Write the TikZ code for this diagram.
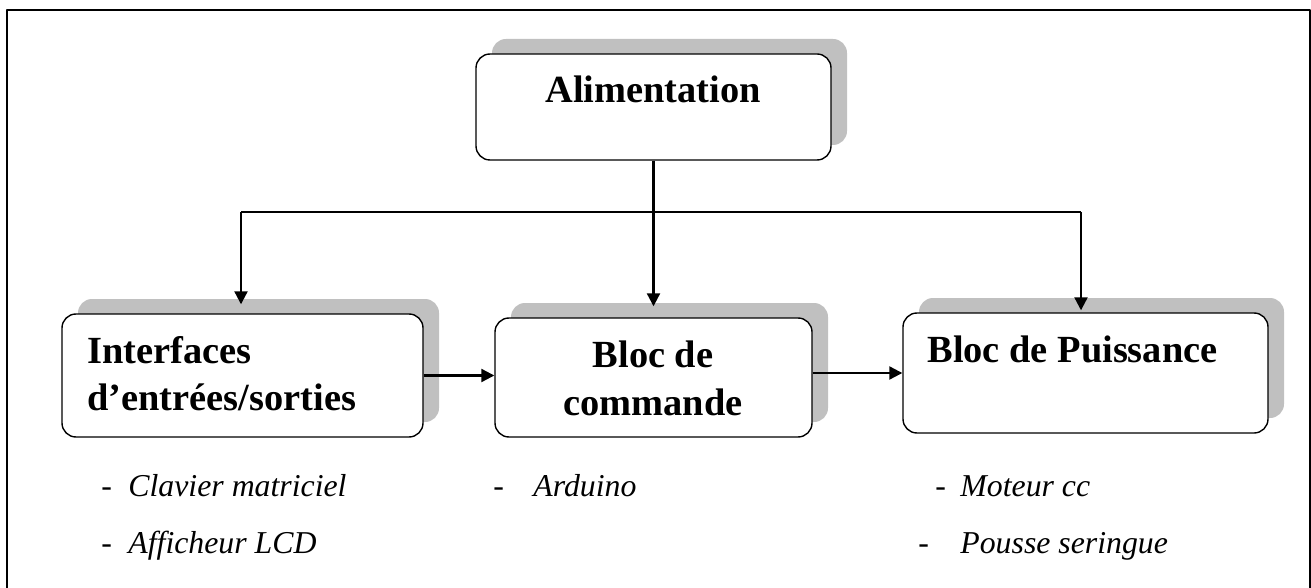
\documentclass[tikz,border=0pt]{standalone}
\usepackage{fontspec}
\setmainfont{Liberation Serif}
\usetikzlibrary{arrows.meta,shadows}
\definecolor{ombre}{RGB}{192,192,192}

\begin{document}
\begin{tikzpicture}[x=0.5pt, y=-0.5pt, line join=round, >={Triangle[length=6.5pt,width=6.5pt]},
	bloc/.style={draw, fill=white, rounded corners=7pt, inner sep=0pt, line width=0.7pt,
		drop shadow={shadow xshift=8pt, shadow yshift=7.5pt, fill=ombre, opacity=1}},
	titre/.style={font=\bfseries\fontsize{19.2}{22}\selectfont, inner sep=0pt},
	item/.style={font=\itshape\fontsize{15.9}{18}\selectfont, inner sep=0pt, anchor=base west},
	fleche/.style={->, line width=1.1pt}]
				\useasboundingbox (0,0) rectangle (1311,588);
				\draw[line width=1pt] (7,600) -- (7,10) -- (1310,10) -- (1310,600);
				% blocs
				\node[bloc, minimum width=177.5pt, minimum height=53pt] (alim) at (653.5,107) {};
				\node[bloc, minimum width=180.5pt, minimum height=61.5pt] (io) at (242.5,375.5) {};
				\node[bloc, minimum width=158.5pt, minimum height=59.5pt] (cmd) at (653.5,377.5) {};
				\node[bloc, minimum width=182.5pt, minimum height=60pt] (puis) at (1085.5,373) {};
				% textes des blocs
				\node[titre, anchor=base] (alim-t) at (653,103) {Alimentation};
				\node[titre, anchor=base west] (io-t1) at (87,363) {Interfaces};
				\node[titre, anchor=base west] (io-t2) at (87,410) {d’entrées/sorties};
				\node[titre, anchor=base] (cmd-t1) at (653,367) {Bloc de};
				\node[titre, anchor=base] (cmd-t2) at (653,415) {commande};
				\node[titre, anchor=base west] (puis-t) at (927,362) {Bloc de Puissance};
				% liaisons
				\coordinate (gauche) at (241,212);
				\coordinate (droite) at (1081,212);
				\draw[fleche] (alim.south) -- ([yshift=5.5pt]cmd.north);
				\draw[line width=1.1pt] (gauche) -- (droite);
				\draw[fleche] (gauche) -- ([yshift=4.5pt]gauche |- io.north);
				\draw[fleche] (droite) -- ([yshift=1pt]droite |- puis.north);
				\draw[fleche] (io.east) -- (io.east -| cmd.west);
				\draw[fleche] (cmd.east |- puis.west) -- (puis.west);
				% composants
				\foreach \n/\x/\d/\y/\t in {clav/128/101/496/Clavier matriciel, lcd/128/101/553/Afficheur LCD, ard/533/493/496/Arduino, mot/960/935/496/Moteur cc, pss/960/918/553/Pousse seringue}
				{
					\node[item] (tiret-\n) at (\d,\y) {-};
					\node[item] (\n) at (\x,\y) {\t};
				}
			\end{tikzpicture}
\end{document}
